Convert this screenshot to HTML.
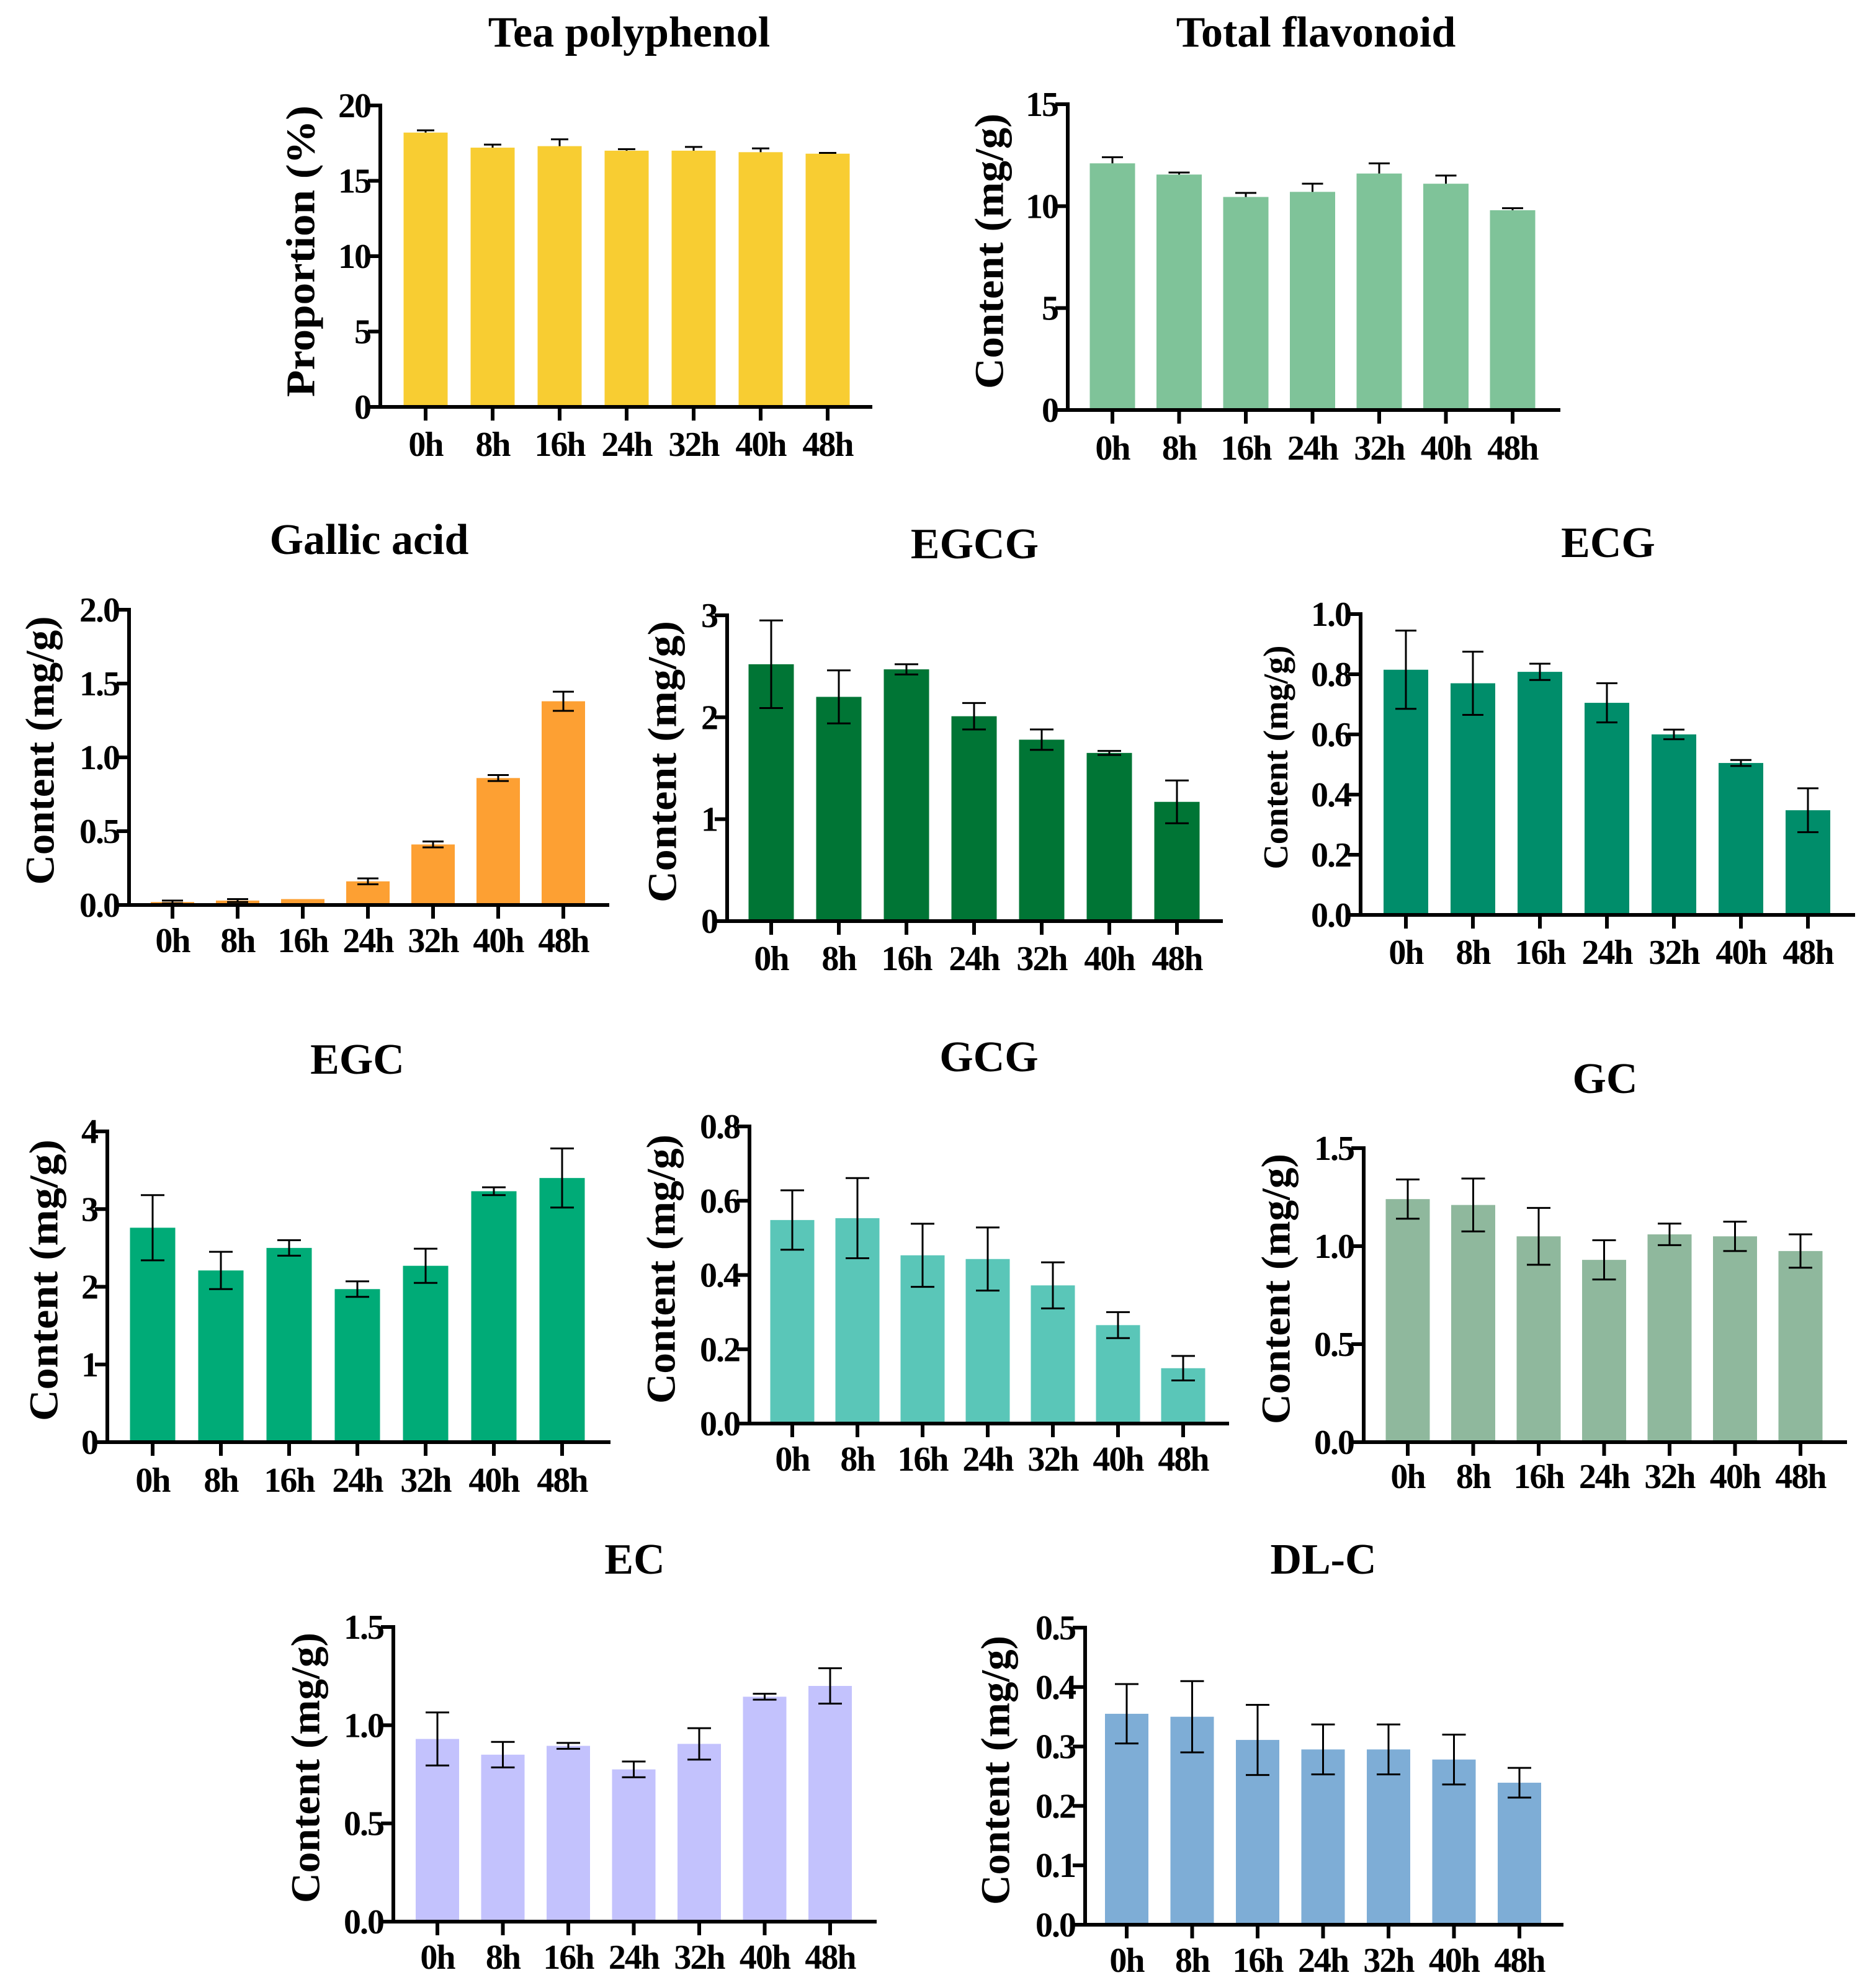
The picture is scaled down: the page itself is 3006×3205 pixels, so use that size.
<!DOCTYPE html>
<html><head><meta charset="utf-8"><style>
html,body{margin:0;padding:0;background:#fff;}
svg{display:block;font-family:"Liberation Serif",serif;font-weight:bold;}
</style></head><body>
<svg id="chart" width="3006" height="3205" viewBox="0 0 3006 3205" xmlns="http://www.w3.org/2000/svg"></svg>
<script>
const categories = ["0h","8h","16h","24h","32h","40h","48h"];

const teaValues = [18.2,17.2,17.3,17.0,17.0,16.9,16.8];
const teaErrors = [0.15,0.2,0.45,0.1,0.25,0.25,0.05];
const teaTicks = [0,5,10,15,20];

const flavValues = [12.1,11.55,10.45,10.7,11.6,11.1,9.8];
const flavErrors = [0.3,0.1,0.2,0.4,0.5,0.4,0.1];
const flavTicks = [0,5,10,15];

const gallicValues = [0.02,0.03,0.04,0.16,0.41,0.86,1.38];
const gallicErrors = [0.01,0.01,0,0.02,0.02,0.02,0.065];
const gallicTicks = [0,0.5,1.0,1.5,2.0];

const egcgValues = [2.52,2.2,2.47,2.01,1.78,1.65,1.17];
const egcgErrors = [0.43,0.26,0.05,0.13,0.1,0.02,0.21];
const egcgTicks = [0,1,2,3];

const ecgValues = [0.815,0.77,0.808,0.705,0.6,0.505,0.348];
const ecgErrors = [0.13,0.105,0.027,0.065,0.016,0.01,0.073];
const ecgTicks = [0,0.2,0.4,0.6,0.8,1.0];

const egcValues = [2.76,2.21,2.5,1.97,2.27,3.23,3.4];
const egcErrors = [0.42,0.24,0.1,0.1,0.22,0.05,0.38];
const egcTicks = [0,1,2,3,4];

const gcgValues = [0.548,0.553,0.453,0.443,0.372,0.265,0.149];
const gcgErrors = [0.08,0.108,0.085,0.085,0.062,0.035,0.033];
const gcgTicks = [0,0.2,0.4,0.6,0.8];

const gcValues = [1.24,1.21,1.05,0.93,1.06,1.05,0.975];
const gcErrors = [0.1,0.135,0.145,0.1,0.055,0.075,0.085];
const gcTicks = [0,0.5,1.0,1.5];

const ecValues = [0.93,0.85,0.895,0.775,0.905,1.145,1.2];
const ecErrors = [0.135,0.065,0.015,0.04,0.08,0.015,0.09];
const ecTicks = [0,0.5,1.0,1.5];

const dlcValues = [0.355,0.35,0.311,0.295,0.295,0.278,0.239];
const dlcErrors = [0.05,0.06,0.059,0.042,0.042,0.042,0.025];
const dlcTicks = [0,0.1,0.2,0.3,0.4,0.5];

const NS = "http://www.w3.org/2000/svg";
const svg = document.getElementById("chart");
function mk(tag, attrs, parent){
  const e = document.createElementNS(NS, tag);
  for (const k in attrs) e.setAttribute(k, attrs[k]);
  (parent||svg).appendChild(e);
  return e;
}

function panel(p){
  const g = mk("g", {});
  
  
  const tmax = p.ticks[p.ticks.length-1];
  const yScale = v => p.y0 - (v / tmax) * (p.y0 - p.yTop);
  const xScale = i => p.tick0 + i * p.sp;

  const t = mk("text", {x:p.tcx, y:p.tby, "text-anchor":"middle", "font-size":70, fill:"#000"}, g);
  t.textContent = p.title;
  
  

  const yt = mk("text", {x:0, y:0, "text-anchor":"middle", "dominant-baseline":"central", "font-size":p.ytf||66, fill:"#000",
    textLength:p.ytl, lengthAdjust:"spacingAndGlyphs",
    transform:`translate(${p.ytx},${p.yty}) rotate(-90)`}, g);
  yt.textContent = p.ytitle;
  
  

  p.values.forEach((v,i)=>{
    const cx = xScale(i), top = yScale(v);
    const b = mk("rect", {x:cx - p.bw/2, y:top, width:p.bw, height:p.y0 - top, fill:p.color}, g);
    
    
    const e = p.errors[i];
    if (e > 0) {
      const hi = yScale(v + e);
      const lo = p.upperOnly ? top : yScale(v - e);
      const eg = mk("g", {stroke:"#000", "stroke-width":3}, g);
      
      
      mk("line", {x1:cx, x2:cx, y1:hi, y2:lo}, eg);
      mk("line", {x1:cx-p.cap, x2:cx+p.cap, y1:hi, y2:hi}, eg);
      if (!p.upperOnly) mk("line", {x1:cx-p.cap, x2:cx+p.cap, y1:lo, y2:lo}, eg);
    }
  });

  const ya = mk("line", {x1:p.ax, x2:p.ax, y1:p.yTop-3, y2:p.y0+3, stroke:"#000", "stroke-width":6}, g);
  
  
  const xa = mk("line", {x1:p.ax-22, x2:p.xend, y1:p.y0, y2:p.y0, stroke:"#000", "stroke-width":6}, g);
  
  

  p.ticks.forEach(tv=>{
    const y = yScale(tv);
    mk("line", {x1:p.ax-20, x2:p.ax, y1:y, y2:y, stroke:"#000", "stroke-width":6}, g);
    const lab = mk("text", {x:p.ax-16, y:y+19, "text-anchor":"end", "font-size":56, "letter-spacing":-2, fill:"#000"}, g);
    lab.textContent = p.dec ? tv.toFixed(p.dec) : String(tv);
    
    
  });
  categories.forEach((c,i)=>{
    const x = xScale(i);
    mk("line", {x1:x, x2:x, y1:p.y0, y2:p.y0+22, stroke:"#000", "stroke-width":6}, g);
    const lab = mk("text", {x:x, y:p.xlb, "text-anchor":"middle", "font-size":56, "letter-spacing":-2, fill:"#000"}, g);
    lab.textContent = c;
    
    
  });
}

const CT = "Content (mg/g)";
panel({key:"tea", title:"Tea polyphenol", ytitle:"Proportion (%)", values:teaValues, errors:teaErrors, ticks:teaTicks, dec:0,
  color:"#F8CD32", ax:613, yTop:170, y0:656, xend:1406, tick0:686, sp:108, bw:71, cap:14, upperOnly:true,
  tcx:1014, tby:75, ytx:485, yty:405, ytl:470, xlb:735});
panel({key:"flavonoid", title:"Total flavonoid", ytitle:CT, values:flavValues, errors:flavErrors, ticks:flavTicks, dec:0,
  color:"#7FC399", ax:1721, yTop:168, y0:661, xend:2515, tick0:1793, sp:107.5, bw:73, cap:17, upperOnly:true,
  tcx:2121, tby:75, ytx:1595, yty:405, ytl:444, xlb:741});
panel({key:"gallic-acid", title:"Gallic acid", ytitle:CT, values:gallicValues, errors:gallicErrors, ticks:gallicTicks, dec:1,
  color:"#FDA033", ax:208, yTop:983, y0:1459, xend:982, tick0:278, sp:105, bw:70, cap:17,
  tcx:595, tby:893, ytx:65, yty:1210, ytl:433, xlb:1535});
panel({key:"egcg", title:"EGCG", ytitle:CT, values:egcgValues, errors:egcgErrors, ticks:egcgTicks, dec:0,
  color:"#007535", ax:1172, yTop:992, y0:1485, xend:1971, tick0:1243, sp:109, bw:73, cap:19,
  tcx:1571, tby:900, ytx:1068, yty:1228, ytl:454, xlb:1564});
panel({key:"ecg", title:"ECG", ytitle:CT, values:ecgValues, errors:ecgErrors, ticks:ecgTicks, dec:1,
  color:"#008D6A", ax:2193, yTop:990, y0:1475, xend:2990, tick0:2266, sp:108, bw:72, cap:17, ytf:56,
  tcx:2592, tby:898, ytx:2057, yty:1221, ytl:361, xlb:1554});
panel({key:"egc", title:"EGC", ytitle:CT, values:egcValues, errors:egcErrors, ticks:egcTicks, dec:0,
  color:"#00AB77", ax:173, yTop:1824, y0:2325, xend:984, tick0:246, sp:110, bw:73, cap:19,
  tcx:576, tby:1731, ytx:71, yty:2064, ytl:454, xlb:2405});
panel({key:"gcg", title:"GCG", ytitle:CT, values:gcgValues, errors:gcgErrors, ticks:gcgTicks, dec:1,
  color:"#5AC6B8", ax:1208, yTop:1816, y0:2295, xend:1981, tick0:1277, sp:105, bw:71, cap:19,
  tcx:1594, tby:1727, ytx:1066, yty:2046, ytl:434, xlb:2371});
panel({key:"gc", title:"GC", ytitle:CT, values:gcValues, errors:gcErrors, ticks:gcTicks, dec:1,
  color:"#8FB89D", ax:2198, yTop:1851, y0:2325, xend:2977, tick0:2269, sp:105.5, bw:71, cap:19,
  tcx:2587, tby:1762, ytx:2057, yty:2078, ytl:436, xlb:2399});
panel({key:"ec", title:"EC", ytitle:CT, values:ecValues, errors:ecErrors, ticks:ecTicks, dec:1,
  color:"#C3C2FD", ax:634, yTop:2623, y0:3098, xend:1413, tick0:705, sp:105.5, bw:70, cap:19,
  tcx:1023, tby:2537, ytx:493, yty:2850, ytl:436, xlb:3174});
panel({key:"dl-c", title:"DL-C", ytitle:CT, values:dlcValues, errors:dlcErrors, ticks:dlcTicks, dec:1,
  color:"#7EADD6", ax:1749, yTop:2624, y0:3103, xend:2520, tick0:1816, sp:105.5, bw:70, cap:19,
  tcx:2133, tby:2537, ytx:1605, yty:2854, ytl:434, xlb:3179});
</script>
</body></html>
